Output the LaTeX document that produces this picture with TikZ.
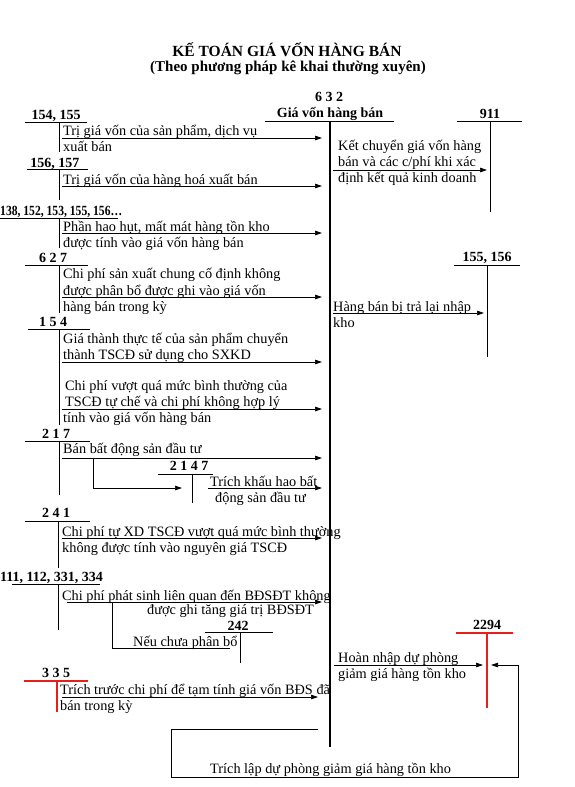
\documentclass[tikz,border=0pt]{standalone}
\usepackage{fontspec}
\setmainfont{Liberation Serif}
\usetikzlibrary{arrows.meta}
\definecolor{redline}{RGB}{230,30,30}
\begin{document}
\begin{tikzpicture}[x=1pt,y=-1pt,
  txt/.style={anchor=base west, inner sep=0pt, font=\fontsize{14.3}{16}\selectfont},
  lab/.style={anchor=base, inner sep=0pt, font=\bfseries\fontsize{14}{16}\selectfont},
  ttl/.style={anchor=base, inner sep=0pt, font=\bfseries\fontsize{15.5}{18}\selectfont},
  ln/.style={line width=0.7pt},
  rln/.style={line width=1.2pt, draw=redline},
  arr/.style={line width=0.7pt, -{Triangle[length=7pt,width=4.5pt]}}]
\useasboundingbox (0,0) rectangle (575,787);
\fill[white] (0,0) rectangle (575,787);

% title
\node[ttl] (title) at (287,56) {KẾ TOÁN GIÁ VỐN HÀNG BÁN};
\node[ttl, font=\bfseries\fontsize{15}{17}\selectfont] (subtitle) at (288,71) {(Theo phương pháp kê khai thường xuyên)};

% main account 632
\coordinate (ax) at (322,0);
\coordinate (t632) at (330,121);
\coordinate (b632) at (330,747);
\node[lab] (l632a) at (329,101) {6 3 2};
\node[lab] (l632b) at (330,117) {Giá vốn hàng bán};
\draw[ln] (265,121) -- (394,121);
\draw[line width=2pt] (t632) -- (b632);

% 911
\node[lab] (l911) at (490,118) {911};
\draw[ln] (457,121) -- (522,121);
\coordinate (v911) at (490,121);
\draw[ln] (v911) -- (490,212);
\node[txt] (k1) at (338,150) {Kết chuyển giá vốn hàng};
\node[txt] (k2) at (338,166) {bán và các c/phí khi xác};
\node[txt] (k3) at (338,182) {định kết quả kinh doanh};
\coordinate (sk) at (333,170);
\draw[arr, shorten >=3pt] (sk) -- (sk -| v911);

% 155,156 right
\node[lab] (l155r) at (487,261) {155, 156};
\draw[ln] (454,265) -- (520,265);
\coordinate (v155r) at (487,265);
\draw[ln] (v155r) -- (487,357);
\node[txt] (h1) at (333,311) {Hàng bán bị trả lại nhập};
\node[txt] (h2) at (333,327) {kho};
\coordinate (sh) at (333,313);
\draw[arr, shorten >=3pt] (sh) -- (sh -| v155r);

% 154,155
\node[lab] (l154a) at (56,119) {154, 155};
\draw[ln] (25,122) -- (87,122);
\draw[ln] (59,122) -- (59,152);
\node[txt] (a1) at (63,135) {Trị giá vốn của sản phẩm, dịch vụ};
\node[txt] (a2) at (63,151) {xuất bán};
\coordinate (s1) at (62,138);
\draw[arr] (s1) -- (s1 -| ax);

% 156,157
\node[lab] (l156) at (55,167) {156, 157};
\draw[ln] (27,169) -- (88,169);
\draw[ln] (59,169) -- (59,200);
\node[txt] (b1) at (63,184) {Trị giá vốn của hàng hoá xuất bán};
\coordinate (s2) at (62,186);
\draw[arr] (s2) -- (s2 -| ax);

% 138...
\node[lab, anchor=base west] (l138) at (0,215) {\scalebox{0.83}[1]{138, 152, 153, 155, 156…}};
\draw[ln] (0,218) -- (118,218);
\draw[ln] (59,218) -- (59,248);
\node[txt] (c1) at (63,231) {Phần hao hụt, mất mát hàng tồn kho};
\node[txt] (c2) at (63,247) {được tính vào giá vốn hàng bán};
\coordinate (s3) at (62,233);
\draw[arr] (s3) -- (s3 -| ax);

% 627
\node[lab] (l627) at (53,262) {6 2 7};
\draw[ln] (25,265) -- (88,265);
\draw[ln] (59,265) -- (59,313);
\node[txt] (d1) at (63,278) {Chi phí sản xuất chung cố định không};
\node[txt] (d2) at (63,295) {được phân bổ được ghi vào giá vốn};
\node[txt] (d3) at (63,311) {hàng bán trong kỳ};
\coordinate (s4) at (62,297);
\draw[arr] (s4) -- (s4 -| ax);

% 154
\node[lab] (l154) at (53,326) {1 5 4};
\draw[ln] (28,329) -- (90,329);
\draw[ln] (59,329) -- (59,425);
\node[txt] (e1) at (63,343) {Giá thành thực tế của sản phẩm chuyển};
\node[txt] (e2) at (63,359) {thành TSCĐ sử dụng cho SXKD};
\coordinate (s5) at (62,362);
\draw[arr] (s5) -- (s5 -| ax);
\node[txt] (e3) at (65,390) {Chi phí vượt quá mức bình thường của};
\node[txt] (e4) at (65,406) {TSCĐ tự chế và chi phí không hợp lý};
\node[txt] (e5) at (63,422) {tính vào giá vốn hàng bán};
\coordinate (s6) at (62,409);
\draw[arr] (s6) -- (s6 -| ax);

% 217
\node[lab] (l217) at (56,438) {2 1 7};
\draw[ln] (25,441) -- (90,441);
\draw[ln] (59,441) -- (59,495);
\node[txt] (f1) at (63,453) {Bán bất động sản đầu tư};
\coordinate (s7) at (62,458);
\draw[arr] (s7) -- (s7 -| ax);
\coordinate (br7) at (93,458);
\coordinate (v2147) at (192,474);
\draw[arr] (br7) -- (93,488) -- (182,488);

% 2147
\node[lab] (l2147) at (189,470) {2 1 4 7};
\draw[ln] (158,474) -- (213,474);
\draw[ln] (v2147) -- (192,503);
\node[txt] (g1) at (210,486) {Trích khấu hao bất};
\node[txt] (g2) at (215,502) {động sản đầu tư};
\coordinate (s8) at (208,488);
\draw[arr] (s8) -- (s8 -| ax);

% 241
\node[lab] (l241) at (56,517) {2 4 1};
\draw[ln] (25,521) -- (90,521);
\draw[ln] (58,521) -- (58,568);
\node[txt] (h241a) at (62,536) {Chi phí tự XD TSCĐ vượt quá mức bình thường};
\node[txt] (h241b) at (62,552) {không được tính vào nguyên giá TSCĐ};
\coordinate (s9) at (62,538);
\draw[arr] (s9) -- (s9 -| ax);

% 111...
\node[lab, anchor=base west] (l111) at (0,581) {111, 112, 331, 334};
\draw[ln] (12,584) -- (100,584);
\draw[ln] (58,584) -- (58,630);
\node[txt] (i1) at (62,600) {Chi phí phát sinh liên quan đến BĐSĐT không};
\node[txt] (i2) at (147,614) {được ghi tăng giá trị BĐSĐT};
\coordinate (s10) at (67,602);
\draw[arr] (s10) -- (s10 -| ax);
\coordinate (br10) at (112,602);
\draw[ln] (br10) -- (112,648) -- (230,648);

% 242
\node[lab] (l242) at (238,630) {242};
\draw[ln] (205,632) -- (273,632);
\draw[ln] (240,632) -- (240,663);
\node[txt] (j1) at (133,646) {Nếu chưa phân bổ};

% 335
\node[lab] (l335) at (56,677) {3 3 5};
\draw[rln] (24,681) -- (88,681);
\draw[rln] (57,681) -- (57,712);
\node[txt] (m1) at (60,694) {Trích trước chi phí để tạm tính giá vốn BĐS đã};
\node[txt] (m2) at (60,710) {bán trong kỳ};
\coordinate (s11) at (62,697);
\draw[arr] (s11) -- (318,697);

% 2294
\node[lab] (l2294) at (487,629) {2294};
\draw[rln] (456,633) -- (513,633);
\coordinate (v2294) at (487,633);
\draw[rln] (v2294) -- (487,708);
\node[txt] (n1) at (338,662) {Hoàn nhập dự phòng};
\node[txt] (n2) at (338,678) {giảm giá hàng tồn kho};
\coordinate (s12) at (334,665);
\draw[arr, shorten >=4pt] (s12) -- (s12 -| v2294);
\coordinate (st) at (318,729);
\draw[arr, shorten >=4pt] (st) -- (171,729) -- (171,777) -- (518,777) -- (518,665) -- (v2294 |- s12);
\node[txt] (o1) at (210,773) {Trích lập dự phòng giảm giá hàng tồn kho};
\end{tikzpicture}
\end{document}
